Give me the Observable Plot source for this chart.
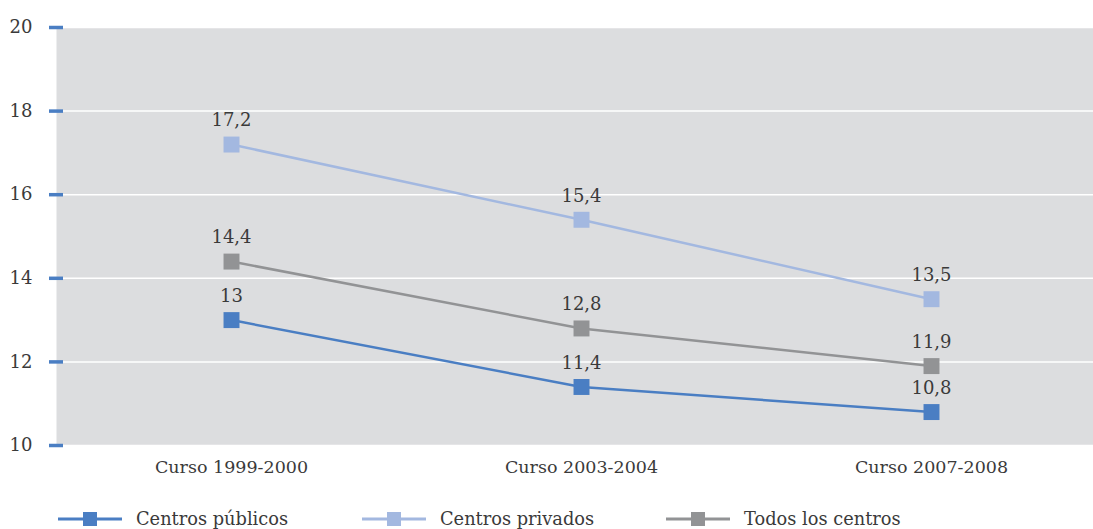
<!DOCTYPE html>
<html>
<head>
<meta charset="utf-8">
<script src="https://cdn.jsdelivr.net/npm/d3@7"></script>
<script src="https://cdn.jsdelivr.net/npm/@observablehq/plot@0.6"></script>
<style>
  html, body { margin: 0; padding: 0; background: #fff; }
  #chart svg { overflow: visible; }
  .legend { position: relative; height: 44px; font-family: "DejaVu Serif", serif; font-size: 17.8px; color: #3a3a3a; }
  .item { position: absolute; top: 23px; display: flex; align-items: center; }
  .item svg { display: block; }
  .item span { margin-left: 14px; }
</style>
</head>
<body>
<div id="chart"></div>
<div class="legend" id="legend"></div>
<script>
const categories = ["Curso 1999-2000", "Curso 2003-2004", "Curso 2007-2008"];
const seriesNames = ["Centros públicos", "Centros privados", "Todos los centros"];
const publicos = [13, 11.4, 10.8];
const privados = [17.2, 15.4, 13.5];
const todos = [14.4, 12.8, 11.9];
const colors = ["#4a7ec3", "#a3b8e0", "#929395"];
const yTicks = [10, 12, 14, 16, 18, 20];

const valuesBySeries = [publicos, privados, todos];
const data = [];
seriesNames.forEach((s, i) => categories.forEach((c, j) => data.push({series: s, cat: c, value: valuesBySeries[i][j], color: colors[i]})));
const fmt = v => String(v).replace(".", ",");

const font = "'DejaVu Serif', serif";
const chart = Plot.plot({
  width: 1093,
  height: 485,
  marginLeft: 56,
  marginRight: 0,
  marginTop: 27,
  marginBottom: 40,
  style: {fontFamily: font, fontSize: "16px", color: "#3a3a3a", background: "white"},
  x: {type: "point", domain: categories, range: [231, 931], padding: 0, label: null},
  y: {domain: [10, 20], label: null},
  marks: [
    Plot.frame({fill: "#dcdddf", stroke: null}),
    Plot.gridY(yTicks, {stroke: "#fff", strokeOpacity: 1, strokeWidth: 1.5}),
    Plot.axisY(yTicks, {text: null, tickSize: 14, dx: 7, stroke: "#4a7ec3", strokeWidth: 3.5}),
    Plot.axisY(yTicks, {tickSize: 0, tickPadding: 24, fontSize: 18, fill: "#3a3a3a", label: null}),
    Plot.axisX({tickSize: 0, tickPadding: 15, fontSize: 17.5, fill: "#3a3a3a", label: null}),
    Plot.line(data, {x: "cat", y: "value", z: "series", stroke: "color", strokeWidth: 2.5}),
    Plot.dot(data, {x: "cat", y: "value", symbol: "square", r: 9, fill: "color", stroke: null}),
    Plot.text(data, {x: "cat", y: "value", text: d => fmt(d.value), dy: -24, fontSize: 18, fill: "#3a3a3a"})
  ]
});
document.getElementById("chart").appendChild(chart);

const legend = document.getElementById("legend");
const lx = [58, 362, 666];
seriesNames.forEach((s, i) => {
  const div = document.createElement("div");
  div.className = "item";
  div.style.left = lx[i] + "px";
  div.innerHTML = `<svg width="64" height="16"><line x1="0" x2="64" y1="8" y2="8" stroke="${colors[i]}" stroke-width="3"/><rect x="25" y="1" width="14" height="14" fill="${colors[i]}"/></svg><span>${s}</span>`;
  legend.appendChild(div);
});
</script>
</body>
</html>
